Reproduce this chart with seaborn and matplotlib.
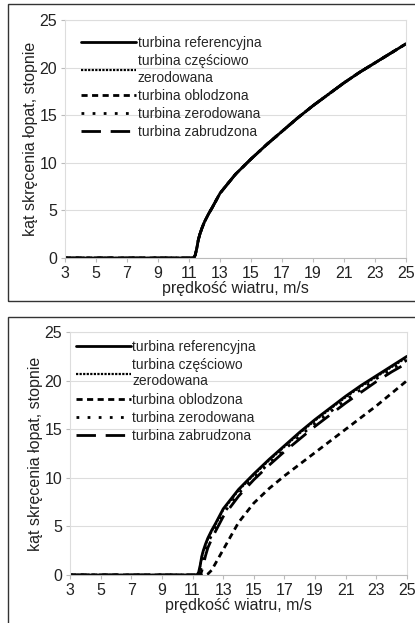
import matplotlib
matplotlib.use("Agg")
import matplotlib.pyplot as plt
import seaborn as sns
from matplotlib.patches import Rectangle

sns.set_theme(style="white")
plt.rcParams['font.family'] = ['Liberation Sans', 'DejaVu Sans']

wind = [3, 11, 11.3, 11.4, 11.5, 11.6, 11.7, 11.85, 12, 12.25, 12.5, 13, 14, 15, 16, 17, 18, 19, 20, 21, 22, 23, 24, 25]
ref = [0, 0, 0, 0.3, 1.0, 1.9, 2.5, 3.2, 3.8, 4.6, 5.3, 6.8, 8.8, 10.4, 11.9, 13.3, 14.7, 16.0, 17.2, 18.4, 19.5, 20.5, 21.5, 22.5]
partial = [0, 0, 0, 0.2, 0.9, 1.8, 2.4, 3.1, 3.7, 4.5, 5.2, 6.7, 8.7, 10.3, 11.8, 13.2, 14.6, 15.9, 17.1, 18.3, 19.4, 20.4, 21.4, 22.4]
iced = [0, 0, 0, 0, 0, 0, 0, 0, 0.1, 0.5, 1.2, 2.6, 5.4, 7.4, 8.9, 10.2, 11.4, 12.6, 13.8, 15.0, 16.2, 17.4, 18.7, 20.0]
eroded = [0, 0, 0, 0, 0.3, 1.0, 1.8, 2.6, 3.3, 4.1, 4.9, 6.3, 8.4, 10.0, 11.5, 12.9, 14.3, 15.6, 16.8, 18.0, 19.1, 20.2, 21.2, 22.1]
dirty = [0, 0, 0, 0, 0, 0.4, 1.0, 2.0, 2.8, 3.7, 4.5, 6.0, 8.1, 9.8, 11.3, 12.7, 14.0, 15.3, 16.5, 17.7, 18.8, 19.9, 20.9, 21.8]

labels = ["turbina referencyjna", "turbina częściowo\nzerodowana", "turbina oblodzona",
          "turbina zerodowana", "turbina zabrudzona"]
xticks = [3, 5, 7, 9, 11, 13, 15, 17, 19, 21, 23, 25]
yticks = [0, 5, 10, 15, 20, 25]

styles = [dict(linestyle='-', lw=2.0),
          dict(linestyle=(0, (1, 0.6)), lw=1.6),
          dict(linestyle=(0, (2.2, 1.6)), lw=2.0),
          dict(linestyle=(0, (1, 3)), lw=2.0),
          dict(linestyle=(0, (7, 3.5)), lw=2.0)]

fig = plt.figure(figsize=(4.15, 6.23), dpi=100)
W, H = 415, 623

def box(x0, y0, x1, y1):
    fig.patches.append(Rectangle((x0 / W, 1 - y1 / H), (x1 - x0) / W, (y1 - y0) / H,
                                 transform=fig.transFigure, fill=False,
                                 edgecolor='#333333', lw=1.0))

box(8, 4, 416, 301)
box(8, 317, 416, 626)

def panel(rect, series, anchor):
    ax = fig.add_axes(rect)
    for data, lab, st in zip(series, labels, styles):
        sns.lineplot(x=wind, y=data, ax=ax, color='black', label=lab, **st)
    ax.set_xlim(3, 25)
    ax.set_ylim(0, 25)
    ax.set_xticks(xticks)
    ax.set_yticks(yticks)
    ax.tick_params(axis='both', labelsize=11.5, colors='#222222', length=3, width=0.8,
                   pad=2.5, bottom=True, left=True)
    ax.tick_params(axis='x', color='#bbbbbb')
    ax.tick_params(axis='y', color='#bbbbbb')
    ax.grid(axis='y', color='#dddddd', lw=0.8)
    for s in ax.spines.values():
        s.set_color('#dddddd')
        s.set_linewidth(0.8)
    ax.spines['bottom'].set_color('#bbbbbb')
    ax.set_xlabel("prędkość wiatru, m/s", fontsize=11.5, labelpad=0, color='#222222')
    ax.set_ylabel("kąt skręcenia łopat, stopnie", fontsize=11.5, labelpad=1, color='#222222')
    ax.legend(loc='upper left', bbox_to_anchor=anchor, frameon=False, fontsize=10,
              handlelength=4.0, handletextpad=0.1, labelspacing=0.3, borderaxespad=0)
    return ax

panel([65 / W, 1 - 258 / H, (406 - 65) / W, (258 - 20) / H],
      [ref, ref, ref, ref, ref], (0.03, 0.955))
panel([70 / W, 1 - 575 / H, (407 - 70) / W, (575 - 332) / H],
      [ref, partial, iced, eroded, dirty], (0.0, 0.99))

fig.savefig("out.png", dpi=100)
